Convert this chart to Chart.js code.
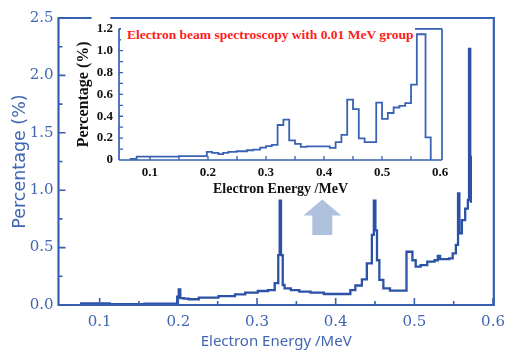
<!DOCTYPE html>
<html>
<head>
<meta charset="utf-8">
<script src="https://cdn.jsdelivr.net/npm/chart.js@4.4.0/dist/chart.umd.min.js"></script>
<style>
  html, body { margin: 0; padding: 0; background: #fff; }
  #wrap { position: relative; width: 513px; height: 351px; overflow: hidden; }
  #main { position: absolute; left: 0; top: 0; }
  #inset { position: absolute; left: 60px; top: 15px; }
  #insetTitle {
    position: absolute; left: 121px; top: 22px; width: 288px; height: 26px;
    padding-left: 6px; background: #fff; color: #ff1c1c;
    font: bold 13.5px "Liberation Serif", serif; line-height: 26px; white-space: nowrap;
  }
</style>
</head>
<body>
<div id="wrap">
  <canvas id="main" width="513" height="351"></canvas>
  <canvas id="inset" width="400" height="185"></canvas>
  <div id="insetTitle">Electron beam spectroscopy with 0.01 MeV group</div>
</div>
<script>
// Full-resolution spectrum (energy in MeV, percentage in %), step edges
const mainEnergy = [0.075, 0.113, 0.157, 0.1985, 0.2005, 0.2025, 0.207, 0.213, 0.226, 0.251,
  0.272, 0.285, 0.301, 0.314, 0.3225, 0.327, 0.3288, 0.3305, 0.3327, 0.335,
  0.343, 0.3537, 0.368, 0.385, 0.4186, 0.425, 0.4333, 0.4396, 0.446, 0.4485,
  0.4505, 0.4525, 0.4555, 0.4606, 0.469, 0.49, 0.4975, 0.5017, 0.508, 0.5164,
  0.5256, 0.5298, 0.5327, 0.5444, 0.5487, 0.5528, 0.5555, 0.5572, 0.5604, 0.5646,
  0.568, 0.5695, 0.571, 0.5718];
const mainPercent = [0.015, 0.008, 0.012, 0.072, 0.135, 0.06, 0.055, 0.05, 0.064, 0.078,
  0.093, 0.107, 0.122, 0.13, 0.19, 0.435, 0.91, 0.435, 0.174, 0.145,
  0.13, 0.116, 0.107, 0.096, 0.13, 0.17, 0.224, 0.363, 0.61, 0.91,
  0.65, 0.39, 0.218, 0.145, 0.125, 0.464, 0.39, 0.334, 0.348, 0.377,
  0.39, 0.427, 0.40, 0.407, 0.45, 0.523, 0.973, 0.625, 0.74, 0.84,
  0.915, 2.23, 1.29, 0.89];

// Same spectrum grouped in 0.01 MeV bins (left bin edge, percentage)
const insetEnergy = [0.065, 0.077, 0.15, 0.198, 0.207, 0.218, 0.226, 0.235, 0.249, 0.267,
  0.278, 0.29, 0.30, 0.31, 0.32, 0.33, 0.34, 0.35, 0.36, 0.37,
  0.41, 0.42, 0.43, 0.44, 0.45, 0.46, 0.47, 0.49, 0.50, 0.51,
  0.52, 0.53, 0.54, 0.55, 0.56, 0.575, 0.584];
const insetPercent = [0.01, 0.03, 0.036, 0.074, 0.065, 0.053, 0.065, 0.074, 0.08, 0.089,
  0.095, 0.113, 0.127, 0.138, 0.32, 0.37, 0.18, 0.148, 0.12, 0.125,
  0.11, 0.163, 0.23, 0.553, 0.465, 0.198, 0.163, 0.524, 0.376, 0.43,
  0.48, 0.495, 0.52, 0.69, 1.15, 0.207, 0];

// Tick values and labels
const mainXTicks = [0.1, 0.2, 0.3, 0.4, 0.5, 0.6];
const mainXLabels = ['0.1', '0.2', '0.3', '0.4', '0.5', '0.6'];
const mainXMinor = [0.15, 0.25, 0.35, 0.45, 0.55];
const mainYTicks = [0, 0.5, 1.0, 1.5, 2.0, 2.5];
const mainYLabels = ['0.0', '0.5', '1.0', '1.5', '2.0', '2.5'];
const mainYMinor = [0.25, 0.75, 1.25, 1.75, 2.25];

const insetXTicks = [0.1, 0.2, 0.3, 0.4, 0.5, 0.6];
const insetXLabels = ['0.1', '0.2', '0.3', '0.4', '0.5', '0.6'];
const insetXMarks = [0.1, 0.15, 0.2, 0.25, 0.3, 0.35, 0.4, 0.45, 0.5, 0.55];
const insetYTicks = [0, 0.2, 0.4, 0.6, 0.8, 1.0, 1.2];
const insetYLabels = ['0', '0.2', '0.4', '0.6', '0.8', '1.0', '1.2'];
const insetYMarks = [0.1, 0.2, 0.3, 0.4, 0.5, 0.6, 0.7, 0.8, 0.9, 1.0, 1.1];

const BLUE_LINE = '#2c52a6';
const BLUE_AXIS = '#3660b2';
const BLUE_TEXT = '#4066b2';
const ARROW = '#b0c1de';

function toPoints(xs, ys) { return xs.map((x, i) => ({ x: x, y: ys[i] })); }
function labelFor(values, labels) { return v => { const i = values.findIndex(t => Math.abs(t - v) < 1e-9); return i >= 0 ? labels[i] : ''; }; }
function fixedTicks(values) { return s => { s.ticks = values.map(v => ({ value: v })); }; }

function seg(ctx, x1, y1, x2, y2) { ctx.moveTo(x1, y1); ctx.lineTo(x2, y2); }

// Frame, inward ticks and the arrow of the main panel
const mainDecor = {
  id: 'mainDecor',
  beforeDatasetsDraw(chart) {
    const { ctx, scales: { x, y } } = chart;
    const cx = x.getPixelForValue(0.383);
    const tip = y.getPixelForValue(0.92), base = y.getPixelForValue(0.78), tail = y.getPixelForValue(0.61);
    ctx.save();
    ctx.fillStyle = ARROW;
    ctx.beginPath();
    ctx.moveTo(cx, tip);
    ctx.lineTo(cx + 19, base);
    ctx.lineTo(cx + 10, base);
    ctx.lineTo(cx + 10, tail);
    ctx.lineTo(cx - 10, tail);
    ctx.lineTo(cx - 10, base);
    ctx.lineTo(cx - 19, base);
    ctx.closePath();
    ctx.fill();
    ctx.restore();
  },
  afterDraw(chart) {
    const { ctx, chartArea: { left, top, right, bottom }, scales: { x, y } } = chart;
    ctx.save();
    ctx.strokeStyle = BLUE_AXIS;
    ctx.lineWidth = 2.2;
    ctx.lineCap = 'square';
    ctx.beginPath();
    seg(ctx, left, bottom, left, top);
    seg(ctx, left, top, left + 32, top);
    seg(ctx, left + 53, top, right, top);
    seg(ctx, right, top, right, bottom);
    seg(ctx, left, bottom, right, bottom);
    ctx.stroke();
    ctx.lineWidth = 1.6;
    ctx.lineCap = 'butt';
    ctx.beginPath();
    mainXTicks.forEach(v => { const p = x.getPixelForValue(v); seg(ctx, p, bottom, p, bottom - 7); });
    mainXMinor.forEach(v => { const p = x.getPixelForValue(v); seg(ctx, p, bottom, p, bottom - 4); });
    mainYTicks.forEach(v => { const p = y.getPixelForValue(v); seg(ctx, left, p, left + 7, p); });
    mainYMinor.forEach(v => { const p = y.getPixelForValue(v); seg(ctx, left, p, left + 4, p); });
    ctx.stroke();
    ctx.restore();
  }
};

// Frame and inward ticks of the inset panel
const insetDecor = {
  id: 'insetDecor',
  afterDraw(chart) {
    const { ctx, chartArea: { left, top, right, bottom }, scales: { x, y } } = chart;
    ctx.save();
    ctx.strokeStyle = BLUE_AXIS;
    ctx.lineWidth = 1.7;
    ctx.beginPath();
    seg(ctx, left, bottom, left, top);
    seg(ctx, left, bottom, right, bottom);
    seg(ctx, right, bottom, right, top);
    seg(ctx, left, top, right, top);
    ctx.stroke();
    ctx.lineWidth = 1.3;
    ctx.beginPath();
    insetXMarks.forEach(v => { const p = x.getPixelForValue(v); seg(ctx, p, bottom, p, bottom - 4); });
    insetYMarks.forEach(v => { const p = y.getPixelForValue(v); seg(ctx, left, p, left + 4, p); });
    ctx.stroke();
    ctx.restore();
  }
};

Chart.defaults.animation = false;

new Chart(document.getElementById('main'), {
  type: 'line',
  data: {
    datasets: [{
      data: toPoints(mainEnergy, mainPercent),
      borderColor: BLUE_LINE,
      borderWidth: 2.3,
      pointRadius: 0,
      stepped: true,
      fill: false
    }]
  },
  options: {
    responsive: false,
    devicePixelRatio: 1,
    animation: false,
    layout: { padding: { top: 18, right: 15.5, left: 0, bottom: 0 } },
    plugins: { legend: { display: false }, tooltip: { enabled: false } },
    scales: {
      x: {
        type: 'linear', min: 0.0477, max: 0.601,
        afterBuildTicks: fixedTicks(mainXTicks),
        afterFit: s => { s.height = 46; },
        grid: { display: false, drawTicks: false },
        border: { display: false },
        ticks: {
          padding: 8, color: BLUE_TEXT, autoSkip: false, maxRotation: 0,
          font: { family: 'DejaVu Serif', size: 15 },
          callback: labelFor(mainXTicks, mainXLabels)
        },
        title: {
          display: true, text: 'Electron Energy /MeV', color: BLUE_TEXT,
          font: { family: 'Noto Sans', size: 15 }, padding: { top: 0, bottom: 0 }
        }
      },
      y: {
        type: 'linear', min: 0, max: 2.5,
        afterBuildTicks: fixedTicks(mainYTicks),
        afterFit: s => { s.width = 58.5; },
        grid: { display: false, drawTicks: false },
        border: { display: false },
        ticks: {
          padding: 5, color: BLUE_TEXT,
          font: { family: 'DejaVu Serif', size: 15 },
          callback: labelFor(mainYTicks, mainYLabels)
        },
        title: {
          display: true, text: 'Percentage (%)', color: BLUE_TEXT,
          font: { family: 'DejaVu Sans', size: 17.5 }, padding: { top: 9.5, bottom: 0 }
        }
      }
    }
  },
  plugins: [mainDecor]
});

new Chart(document.getElementById('inset'), {
  type: 'line',
  data: {
    datasets: [{
      data: toPoints(insetEnergy, insetPercent),
      borderColor: '#3a62b4',
      borderWidth: 1.8,
      pointRadius: 0,
      stepped: true,
      fill: false
    }]
  },
  options: {
    responsive: false,
    devicePixelRatio: 1,
    animation: false,
    layout: { padding: { top: 10, right: 18, left: 0, bottom: 0 } },
    plugins: { legend: { display: false }, tooltip: { enabled: false } },
    scales: {
      x: {
        type: 'linear', min: 0.0466, max: 0.6034,
        afterBuildTicks: fixedTicks(insetXTicks),
        afterFit: s => { s.height = 40; },
        grid: { display: false, drawTicks: false },
        border: { display: false },
        ticks: {
          padding: 5, color: '#111', autoSkip: false, maxRotation: 0,
          font: { family: 'Liberation Serif', size: 13, weight: 'bold' },
          callback: labelFor(insetXTicks, insetXLabels)
        },
        title: {
          display: true, text: 'Electron Energy /MeV', color: '#111',
          font: { family: 'Liberation Serif', size: 14, weight: 'bold' }, padding: { top: 0, bottom: 2.6 }
        }
      },
      y: {
        type: 'linear', min: 0, max: 1.2,
        afterBuildTicks: fixedTicks(insetYTicks),
        afterFit: s => { s.width = 59; },
        grid: { display: false, drawTicks: false },
        border: { display: false },
        ticks: {
          padding: 6, color: '#111',
          font: { family: 'Liberation Serif', size: 13, weight: 'bold' },
          callback: labelFor(insetYTicks, insetYLabels)
        },
        title: {
          display: true, text: 'Percentage (%)', color: '#111',
          font: { family: 'Liberation Serif', size: 16, weight: 'bold' }, padding: { top: 14.4, bottom: 0 }
        }
      }
    }
  },
  plugins: [insetDecor]
});
</script>
</body>
</html>
